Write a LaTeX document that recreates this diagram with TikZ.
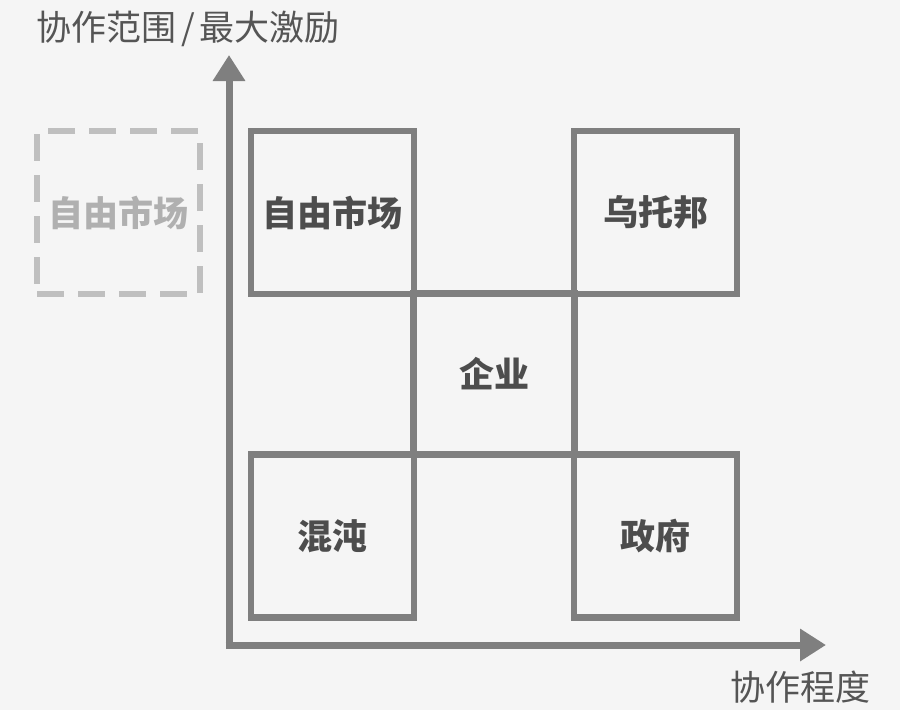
\documentclass[tikz,border=0pt]{standalone}
\usepackage{fontspec}
\newfontfamily\cjk{Noto Sans CJK SC}
\usetikzlibrary{arrows.meta}
\definecolor{bgc}{HTML}{F5F5F5}
\definecolor{linec}{HTML}{7F7F7F}
\definecolor{txtc}{HTML}{4D4D4D}
\definecolor{lblc}{HTML}{555555}
\definecolor{dashc}{HTML}{BFBFBF}
\definecolor{dashtxt}{HTML}{B0B0B0}
\tikzset{
  axis/.style={draw=linec, line width=7pt, -{Triangle[width=31pt,length=26pt]}},
  cell/.style={draw=linec, line width=6.8pt, minimum width=163pt, minimum height=163pt, inner sep=0pt, text=txtc, font=\cjk\fontsize{35}{40}\selectfont\bfseries},
  ghost/.style={draw=dashc, line width=6.8pt, dash pattern=on 27pt off 14pt, minimum width=163pt, minimum height=163pt, inner sep=0pt, text=dashtxt, font=\cjk\fontsize{35}{40}\selectfont\bfseries},
  axlabel/.style={text=lblc, inner sep=0pt, font=\cjk\fontsize{35}{40}\selectfont}
}
\begin{document}
\begin{tikzpicture}[x=1pt,y=-1pt]
\fill[bgc] (0,0) rectangle (900,710);
\useasboundingbox (0,0) rectangle (900,710);
\coordinate (ytip) at (229,55);
\coordinate (xtip) at (826,645);
\coordinate (ostart) at (229,649);
\coordinate (oxstart) at (225.5,645);
\draw[axis] (ostart) -- (ytip);
\draw[axis] (oxstart) -- (xtip);
\node[ghost] (ghost) at (118.5,212.5) {自由市场};
\node[cell] (free) at (332.5,212.5) {自由市场};
\node[cell] (utopia) at (655.5,212.5) {乌托邦};
\node[cell, minimum width=161pt, minimum height=161pt] (firm) at (494,374) {企业};
\node[cell] (chaos) at (332.5,536) {混沌};
\node[cell] (gov) at (655.5,536) {政府};
\node[axlabel, anchor=west] (ylab) at (36,29) {协作范围\hspace{5pt}/\hspace{5pt}最大激励};
\node[axlabel] (xlab) at (800,687) {协作程度};
\end{tikzpicture}
\end{document}
